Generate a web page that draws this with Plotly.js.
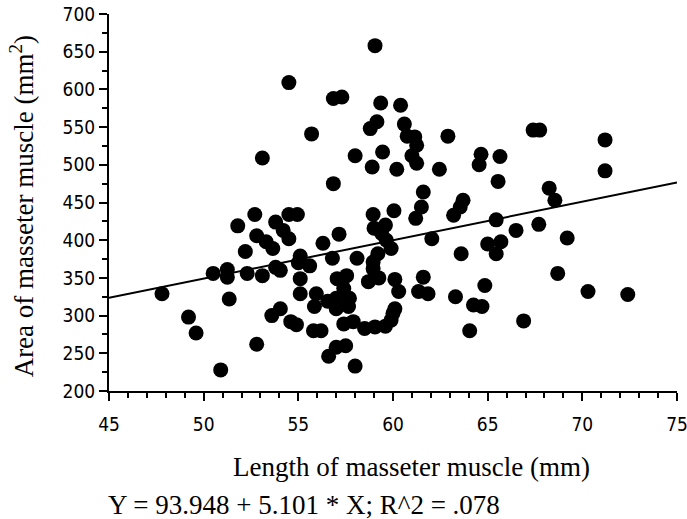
<!DOCTYPE html>
<html>
<head>
<meta charset="utf-8">
<script src="https://cdn.plot.ly/plotly-3.0.1.min.js"></script>
<style>html,body{margin:0;padding:0;background:#fff;}#chart{width:687px;height:519px;}</style>
</head>
<body>
<div id="chart"></div>
<script>
// Length of masseter muscle (mm)
const lengthMM = [
  47.8, 49.2, 49.6, 50.5, 50.9, 51.25, 51.25, 51.35, 51.8, 52.2,
  52.3, 52.7, 52.8, 52.8, 53.1, 53.1, 53.3, 53.6, 53.65, 53.8,
  53.8, 54.05, 54.05, 54.2, 54.5, 54.5, 54.5, 54.6, 54.9, 54.95,
  55.1, 55.0, 55.6, 55.1, 55.1, 55.7, 55.95, 55.85, 56.55, 57.0,
  55.8, 56.2, 56.3, 56.6, 56.8, 56.85, 56.85, 57.0, 57.0, 57.0,
  57.05, 57.15, 57.3, 57.4, 57.4, 57.5, 57.55, 57.7, 57.65, 57.9,
  58.0, 58.0, 58.1, 58.5, 58.7, 58.8, 58.9, 58.95, 59.05, 58.95,
  58.95, 59.0, 59.05, 59.15, 59.2, 59.25, 59.35, 59.45, 59.4, 59.6,
  59.6, 59.65, 59.9, 59.9, 60.0, 60.1, 60.1, 60.05, 60.2, 60.3,
  60.4, 60.6, 60.75, 61.0, 61.15, 61.25, 61.25, 61.2, 61.35, 61.5,
  61.6, 61.6, 61.85, 62.05, 62.45, 62.9, 63.2, 63.3, 63.55, 63.6,
  63.7, 64.05, 64.25, 64.55, 64.65, 64.7, 64.85, 65.0, 65.45, 65.45,
  65.55, 65.65, 65.7, 66.5, 66.9, 67.4, 67.75, 67.7, 68.25, 68.55,
  68.7, 69.2, 70.3, 71.2, 71.2, 72.4
];
// Area of masseter muscle (mm^2)
const areaMM2 = [
  329, 298, 277, 356, 228, 361, 351, 322, 419, 385,
  356, 434, 406, 262, 509, 353, 398, 300, 389, 364,
  424, 360, 309, 413, 402, 609, 434, 292, 288, 434,
  379, 370, 366, 349, 329, 541, 329, 312, 319, 314,
  280, 280, 396, 246, 376, 588, 475, 258, 323, 309,
  349, 408, 590, 336, 289, 260, 353, 323, 312, 292,
  233, 512, 376, 283, 345, 548, 497, 434, 658, 371,
  362, 416, 285, 557, 382, 350, 582, 517, 409, 420,
  286, 400, 389, 294, 303, 309, 348, 439, 494, 332,
  579, 554, 538, 512, 537, 502, 526, 429, 332, 444,
  351, 464, 329, 402, 494, 538, 433, 325, 444, 382,
  453, 280, 314, 500, 514, 312, 340, 395, 427, 382,
  478, 511, 398, 413, 293, 546, 546, 421, 469, 453,
  356, 403, 332, 533, 492, 328
];
// Regression line Y = 93.948 + 5.101 * X drawn across the axis range
const fitX = [45, 75];
const fitY = [323.5, 476.5];
const xTickVals = [45, 50, 55, 60, 65, 70, 75];
const yTickVals = [200, 250, 300, 350, 400, 450, 500, 550, 600, 650, 700];
const equationText = 'Y = 93.948 + 5.101 * X; R^2 = .078';
const xTitle = 'Length of masseter muscle (mm)';
const yTitle = 'Area of masseter muscle (mm<sup>2</sup>)';

const tickFont = {family: '"DejaVu Sans Condensed", "Liberation Sans Narrow", sans-serif', size: 19, color: '#000'};
const serifFont = {family: '"Liberation Serif", "Times New Roman", serif', size: 27, color: '#000'};

const traces = [
  {x: fitX, y: fitY, mode: 'lines', type: 'scatter', line: {color: '#000', width: 2}, hoverinfo: 'skip', showlegend: false},
  {x: lengthMM, y: areaMM2, mode: 'markers', type: 'scatter', marker: {color: '#000', size: 15, line: {width: 0}}, showlegend: false}
];

const layout = {
  width: 687, height: 519,
  margin: {l: 109, r: 10, t: 14, b: 128},
  paper_bgcolor: '#fff', plot_bgcolor: '#fff',
  showlegend: false,
  xaxis: {
    range: [45, 75], tickmode: 'array', tickvals: xTickVals,
    ticks: 'outside', ticklen: 8, tickwidth: 2, tickcolor: '#000',
    minor: {dtick: 1, ticks: 'outside', ticklen: 5, tickwidth: 2, tickcolor: '#000'},
    showline: true, linecolor: '#000', linewidth: 2, showgrid: false, zeroline: false,
    tickfont: tickFont, ticklabelstandoff: 7, ticklabeloverflow: 'allow'
  },
  yaxis: {
    range: [200, 700], tickmode: 'array', tickvals: yTickVals,
    ticks: 'outside', ticklen: 8, tickwidth: 2, tickcolor: '#000',
    minor: {dtick: 25, ticks: 'outside', ticklen: 5, tickwidth: 2, tickcolor: '#000'},
    showline: true, linecolor: '#000', linewidth: 2, showgrid: false, zeroline: false,
    tickfont: tickFont, ticklabeloverflow: 'allow'
  },
  annotations: [
    {text: xTitle, xref: 'paper', yref: 'paper', x: 0.532, y: -0.202,
     xanchor: 'center', yanchor: 'middle', showarrow: false, font: serifFont},
    {text: yTitle, xref: 'paper', yref: 'paper', x: -0.153, y: 0.49, textangle: -90,
     xanchor: 'center', yanchor: 'middle', showarrow: false, font: serifFont},
    {text: equationText, xref: 'paper', yref: 'paper', x: -0.003, y: -0.302,
     xanchor: 'left', yanchor: 'middle', showarrow: false, font: serifFont, borderpad: 0}
  ]
};

Plotly.newPlot('chart', traces, layout, {displayModeBar: false, staticPlot: true});
</script>
</body>
</html>
